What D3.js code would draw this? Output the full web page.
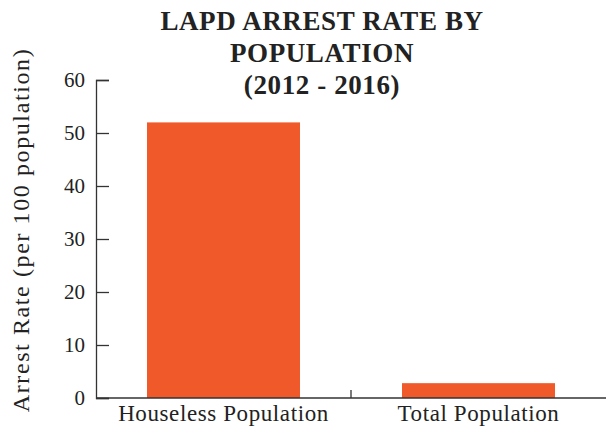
<!DOCTYPE html>
<html>
<head>
<meta charset="utf-8">
<script src="https://cdn.jsdelivr.net/npm/d3@7"></script>
<style>
  html, body { margin: 0; padding: 0; background: #fff; }
  svg { display: block; }
  text { font-family: "Liberation Serif", serif; fill: #222; font-variant-numeric: oldstyle-nums; }
</style>
</head>
<body>
<svg id="chart" width="606" height="429"></svg>
<script>
const categories = ["Houseless Population", "Total Population"];
const values = [52.0, 2.8];
const yTicks = [0, 10, 20, 30, 40, 50, 60];
const titleLines = ["LAPD ARREST RATE BY", "POPULATION", "(2012 - 2016)"];
const yLabel = "Arrest Rate (per 100 population)";

const W = 606, H = 429;
const margin = {left: 96, right: 0, top: 80, bottom: 31};
const svg = d3.select("#chart");

const x = d3.scaleBand().domain(categories).range([margin.left, W - margin.right]).paddingInner(0.4).paddingOuter(0.2);
const y = d3.scaleLinear().domain([0, 60]).range([H - margin.bottom, margin.top]);

// bars
svg.append("g").selectAll("rect").data(values).join("rect")
  .attr("x", (d, i) => x(categories[i]))
  .attr("width", x.bandwidth())
  .attr("y", d => y(d))
  .attr("height", d => y(0) - y(d))
  .attr("fill", "#F05A2B");

// y axis
const yAxis = svg.append("g").attr("transform", `translate(${margin.left},0)`)
  .call(d3.axisLeft(y).tickValues(yTicks).tickSize(-13).tickPadding(11).tickFormat(d3.format("d")));
yAxis.attr("font-family", null);
yAxis.selectAll("path, line").attr("stroke", "#333").attr("stroke-width", 1.3);
yAxis.selectAll("text").style("font-size", "21px").attr("fill", "#222");

// x axis with boundary tick between categories
const xAxisG = svg.append("g").attr("transform", `translate(0,${y(0)})`);
xAxisG.append("line").attr("x1", margin.left).attr("x2", W).attr("y1", 0).attr("y2", 0)
  .attr("stroke", "#333").attr("stroke-width", 1.5);
const mid = (x(categories[0]) + x.bandwidth() + x(categories[1])) / 2;
xAxisG.append("line").attr("x1", mid).attr("x2", mid).attr("y1", 0).attr("y2", -8)
  .attr("stroke", "#333").attr("stroke-width", 1.3);
xAxisG.selectAll("text.cat").data(categories).join("text")
  .attr("class", "cat")
  .attr("x", d => x(d) + x.bandwidth() / 2)
  .attr("y", 23)
  .attr("text-anchor", "middle")
  .style("font-size", "23px")
  .style("letter-spacing", "0.6px")
  .text(d => d);

// y label
svg.append("text")
  .attr("transform", `translate(29,230) rotate(-90)`)
  .attr("text-anchor", "middle")
  .style("font-size", "24px")
  .style("letter-spacing", "1.6px")
  .text(yLabel);

// title
svg.append("g").selectAll("text").data(titleLines).join("text")
  .attr("x", 322)
  .attr("y", (d, i) => 30 + i * 32)
  .attr("text-anchor", "middle")
  .style("font-size", "27px")
  .style("font-weight", "bold")
  .style("letter-spacing", "0.6px")
  .text(d => d);
</script>
</body>
</html>
